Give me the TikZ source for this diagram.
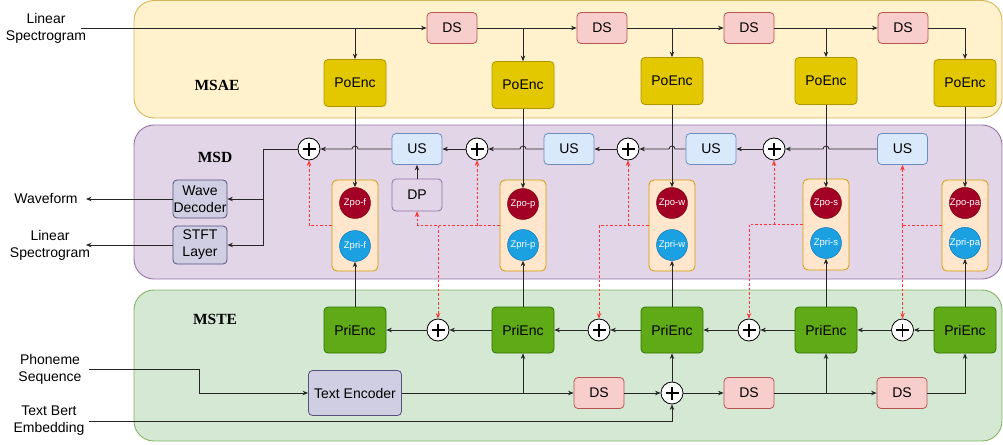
\documentclass[tikz,border=0pt]{standalone}
\usepackage{fontspec}
\setmainfont{Liberation Sans}
\newfontfamily\titlefont{Liberation Serif}
\usetikzlibrary{arrows.meta,calc}
\definecolor{aeFill}{HTML}{FFF2CC}\definecolor{aeLine}{HTML}{D6B656}
\definecolor{sdFill}{HTML}{E1D5E7}\definecolor{sdLine}{HTML}{9673A6}
\definecolor{teFill}{HTML}{D5E8D4}\definecolor{teLine}{HTML}{82B366}
\definecolor{dsFill}{HTML}{F8CECC}\definecolor{dsLine}{HTML}{B85450}
\definecolor{poFill}{HTML}{E3C800}\definecolor{poLine}{HTML}{B09500}
\definecolor{usFill}{HTML}{DAE8FC}\definecolor{usLine}{HTML}{6C8EBF}
\definecolor{prFill}{HTML}{60A917}\definecolor{prLine}{HTML}{2D7600}
\definecolor{pnFill}{HTML}{D0CEE2}\definecolor{pnLine}{HTML}{56517E}
\definecolor{zbFill}{HTML}{FFE6CC}\definecolor{zbLine}{HTML}{D79B00}
\definecolor{zoFill}{HTML}{A20025}\definecolor{zoLine}{HTML}{6F0000}
\definecolor{ziFill}{HTML}{1BA1E2}\definecolor{ziLine}{HTML}{006EAF}
\definecolor{redd}{HTML}{FF3333}
\begin{document}
\begin{tikzpicture}[x=1pt,y=-1pt,
  txt/.style={font=\fontsize{14}{17}\selectfont},
  lbl/.style={txt,align=center,inner sep=0},
  ttl/.style={font=\titlefont\bfseries\fontsize{15.5}{18}\selectfont,inner sep=0},
  panel/.style={rounded corners=20pt,line width=0.9pt},
  box/.style={txt,rounded corners=4pt,line width=0.8pt,inner sep=0,align=center},
  dsbox/.style={box,fill=dsFill,draw=dsLine,minimum width=50pt,minimum height=31pt},
  pobox/.style={box,fill=poFill,draw=poLine,minimum width=62pt,minimum height=47pt},
  usbox/.style={box,fill=usFill,draw=usLine,minimum width=50pt,minimum height=31pt},
  prbox/.style={box,fill=prFill,draw=prLine,minimum width=62pt,minimum height=46pt},
  pnbox/.style={box,fill=pnFill,draw=pnLine},
  zbox/.style={rounded corners=5pt,fill=zbFill,draw=zbLine,line width=0.8pt,minimum width=46pt,minimum height=91pt,inner sep=0},
  zo/.style={circle,fill=zoFill,draw=zoLine,minimum size=31pt,inner sep=0,text=white,font=\fontsize{9.5}{11}\selectfont},
  zi/.style={circle,fill=ziFill,draw=ziLine,minimum size=31pt,inner sep=0,text=white,font=\fontsize{9.5}{11}\selectfont},
  plus/.style={circle,draw=black,fill=white,line width=0.8pt,minimum size=22pt,inner sep=0,
    path picture={\draw[line width=1.6pt] ([xshift=-6.5pt]path picture bounding box.center) -- ([xshift=6.5pt]path picture bounding box.center);
                  \draw[line width=1.6pt] ([yshift=-6.5pt]path picture bounding box.center) -- ([yshift=6.5pt]path picture bounding box.center);}},
  arr/.style={draw=black!85,line width=0.8pt,-{Stealth[length=5.5pt,width=4.5pt]}},
  ln/.style={draw=black!85,line width=0.8pt},
  rl/.style={draw=redd,line width=0.8pt,dash pattern=on 2.5pt off 2pt},
  ra/.style={rl,-{Stealth[length=5.5pt,width=4.5pt]}}
]
\useasboundingbox (0,0) rectangle (1003,444);
% panels
\draw[panel,fill=aeFill,draw=aeLine] (134,0.5) rectangle (1002,118);
\draw[panel,fill=sdFill,draw=sdLine] (134,125) rectangle (1002,279);
\draw[panel,fill=teFill,draw=teLine] (134,290) rectangle (1002,441);
\node[ttl] (tae) at (217,85) {MSAE};
\node[ttl] (tsd) at (215,157) {MSD};
\node[ttl] (tte) at (215,319) {MSTE};
% MSAE
\node[lbl] (lsin) at (46,28) {Linear\\Spectrogram};
\coordinate (lsa) at (81,28);
\node[dsbox] (ds1) at (452,28) {DS};
\node[dsbox] (ds2) at (602,28) {DS};
\node[dsbox] (ds3) at (749,28) {DS};
\node[dsbox] (ds4) at (903,28) {DS};
\node[pobox] (po1) at (355,83) {PoEnc};
\node[pobox] (po2) at (523,85) {PoEnc};
\node[pobox] (po3) at (672,81) {PoEnc};
\node[pobox] (po4) at (826,81) {PoEnc};
\node[pobox] (po5) at (965,83) {PoEnc};
% MSD
\node[usbox] (us1) at (417,149) {US};
\node[usbox] (us2) at (569,149) {US};
\node[usbox] (us3) at (711,149) {US};
\node[usbox] (us4) at (902.5,149) {US};
\node[plus] (pd1) at (309,149) {};
\node[plus] (pd2) at (477,149) {};
\node[plus] (pd3) at (628,149) {};
\node[plus] (pd4) at (774,149) {};
\node[box,fill=sdFill,draw=sdLine,minimum width=50pt,minimum height=32pt] (dp) at (417,195) {DP};
\node[pnbox,minimum width=54pt,minimum height=38pt] (wd) at (200,199) {Wave\\Decoder};
\node[pnbox,minimum width=54pt,minimum height=38pt] (st) at (200,245) {STFT\\Layer};
\node[lbl] (wf) at (46,199) {Waveform};
\node[lbl] (lso) at (50,245) {Linear\\Spectrogram};
\coordinate (wfa) at (86,199);
\coordinate (lsoa) at (86,245);
\node[zbox] (zb1) at (355,225.5) {};
\node[zbox] (zb2) at (523,225.5) {};
\node[zbox] (zb3) at (672,225.5) {};
\node[zbox] (zb4) at (826,224.5) {};
\node[zbox] (zb5) at (965,225.5) {};
\node[zo] (zo1) at (355,203) {Zpo-f};
\node[zi] (zi1) at (355,246) {Zpri-f};
\node[zo] (zo2) at (523,204) {Zpo-p};
\node[zi] (zi2) at (523,245) {Zpri-p};
\node[zo] (zo3) at (672,203) {Zpo-w};
\node[zi] (zi3) at (672,245) {Zpri-w};
\node[zo] (zo4) at (826,203) {Zpo-s};
\node[zi] (zi4) at (826,243) {Zpri-s};
\node[zo] (zo5) at (965,203) {Zpo-pa};
\node[zi] (zi5) at (965,243) {Zpri-pa};
% MSTE
\node[prbox] (pe1) at (355,330) {PriEnc};
\node[prbox] (pe2) at (523,330) {PriEnc};
\node[prbox] (pe3) at (672,330) {PriEnc};
\node[prbox] (pe4) at (826,330) {PriEnc};
\node[prbox] (pe5) at (965,330) {PriEnc};
\node[plus] (pt1) at (438,330) {};
\node[plus] (pt2) at (599,330) {};
\node[plus] (pt3) at (749,330) {};
\node[plus] (pt4) at (902.5,330) {};
\node[pnbox,minimum width=93pt,minimum height=45pt] (te) at (355,393) {Text Encoder};
\node[dsbox] (ds5) at (599,393) {DS};
\node[dsbox] (ds6) at (749,393) {DS};
\node[dsbox] (ds7) at (902,393) {DS};
\node[plus] (p5) at (672,393) {};
\node[lbl] (ph) at (50,369) {Phoneme\\Sequence};
\node[lbl] (tb) at (49,421) {Text Bert\\Embedding};
\coordinate (pha) at (89,369);
\coordinate (phb) at (199,369);
\coordinate (tba) at (89,421);
% --- MSAE connectors
\draw[arr] (lsa) -- (ds1.west);
\draw[arr] (po1 |- lsa) -- (po1.north);
\draw[arr] (ds1.east) -- (ds2.west);
\draw[arr] (po2 |- ds1) -- (po2.north);
\draw[arr] (ds2.east) -- (ds3.west);
\draw[arr] (po3 |- ds2) -- (po3.north);
\draw[arr] (ds3.east) -- (ds4.west);
\draw[arr] (po4 |- ds3) -- (po4.north);
\draw[arr] (ds4.east) -| (po5.north);
% PoEnc -> Zpo
\draw[arr] (po1.south) -- (zo1.north);
\draw[arr] (po2.south) -- (zo2.north);
\draw[arr] (po3.south) -- (zo3.north);
\draw[arr] (po4.south) -- (zo4.north);
\draw[arr] (po5.south) -- (zo5.north);
% --- MSD chain with line hops
\draw[arr] (us4.west) -- ($(po4 |- us4)+(3,0)$) arc[start angle=0,end angle=180,radius=3pt] -- (pd4.east);
\draw[arr] (pd4.west) -- (us3.east);
\draw[arr] (us3.west) -- ($(po3 |- us3)+(3,0)$) arc[start angle=0,end angle=180,radius=3pt] -- (pd3.east);
\draw[arr] (pd3.west) -- (us2.east);
\draw[arr] (us2.west) -- ($(po2 |- us2)+(3,0)$) arc[start angle=0,end angle=180,radius=3pt] -- (pd2.east);
\draw[arr] (pd2.west) -- (us1.east);
\draw[arr] (us1.west) -- ($(po1 |- us1)+(3,0)$) arc[start angle=0,end angle=180,radius=3pt] -- (pd1.east);
\coordinate (j1) at (263,149);
\draw[arr] (pd1.west) -- (j1) |- (st.east);
\draw[arr] (j1 |- wd) -- (wd.east);
\draw[arr] (wd.west) -- (wfa);
\draw[arr] (st.west) -- (lsoa);
\draw[arr] (dp.north) -- (us1.south);
% --- red dashed
\draw[ra] (zb1.west) -| (pd1.south);
\draw[rl] (zb2.west) -- (dp |- zb2.west);
\draw[ra] (pd2 |- zb2.west) -- (pd2.south);
\draw[ra] (dp |- zb2.west) -- (dp.south);
\draw[ra] (pt1 |- zb2.west) -- (pt1.north);
\draw[rl] (zb3.west) -- (pt2 |- zb3.west);
\draw[ra] (pd3 |- zb3.west) -- (pd3.south);
\draw[ra] (pt2 |- zb3.west) -- (pt2.north);
\draw[rl] (zb4.west) -- (pt3 |- zb4.west);
\draw[ra] (pd4 |- zb4.west) -- (pd4.south);
\draw[ra] (pt3 |- zb4.west) -- (pt3.north);
\draw[rl] (zb5.west) -- (us4 |- zb5.west);
\draw[ra] (us4 |- zb5.west) -- (us4.south);
\draw[ra] (pt4 |- zb5.west) -- (pt4.north);
% --- MSTE connectors
\draw[arr] (pe5.west) -- (pt4.east);
\draw[arr] (pt4.west) -- (pe4.east);
\draw[arr] (pe4.west) -- (pt3.east);
\draw[arr] (pt3.west) -- (pe3.east);
\draw[arr] (pe3.west) -- (pt2.east);
\draw[arr] (pt2.west) -- (pe2.east);
\draw[arr] (pe2.west) -- (pt1.east);
\draw[arr] (pt1.west) -- (pe1.east);
\draw[arr] (pe1.north) -- (zi1.south);
\draw[arr] (pe2.north) -- (zi2.south);
\draw[arr] (pe3.north) -- (zi3.south);
\draw[arr] (pe4.north) -- (zi4.south);
\draw[arr] (pe5.north) -- (zi5.south);
\draw[arr] (pha) -- (phb) |- (te.west);
\draw[arr] (tba) -| (p5.south);
\draw[arr] (te.east) -- (ds5.west);
\draw[arr] (pe2 |- te) -- (pe2.south);
\draw[arr] (ds5.east) -- (p5.west);
\draw[arr] (p5.east) -- (ds6.west);
\draw[arr] (p5.north) -- (pe3.south);
\draw[arr] (ds6.east) -- (ds7.west);
\draw[arr] (pe4 |- ds6) -- (pe4.south);
\draw[arr] (ds7.east) -| (pe5.south);
\end{tikzpicture}
\end{document}
